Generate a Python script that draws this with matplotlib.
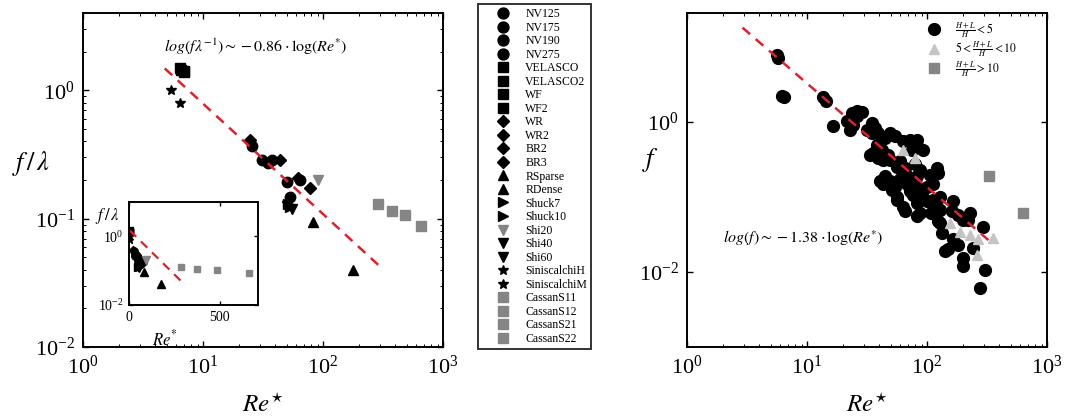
import numpy as np
import matplotlib
matplotlib.use('Agg')
import matplotlib.pyplot as plt
from matplotlib.ticker import FixedLocator
from matplotlib.lines import Line2D

plt.rcParams['font.family'] = ['Liberation Serif', 'DejaVu Serif']
plt.rcParams['mathtext.fontset'] = 'stix'

# ---------------- left panel data (Re*, f/lambda) ----------------
series_names = ['NV125', 'NV175', 'NV190', 'NV275', 'VELASCO', 'VELASCO2', 'WF', 'WF2',
                'WR', 'WR2', 'BR2', 'BR3', 'RSparse', 'RDense', 'Shuck7', 'Shuck10',
                'Shi20', 'Shi40', 'Shi60', 'SiniscalchiH', 'SiniscalchiM',
                'CassanS11', 'CassanS12', 'CassanS21', 'CassanS22']
series_re = [[25.5], [30.8, 35.0], [37.4, 49.8], [53.0, 64.3], [6.4], [6.9], [6.6], [7.0],
             [24.6], [43.8], [62.3], [78.0], [83.0], [178.0], [53.0], [51.0],
             [91.4], [50.0], [55.0], [5.4], [6.4],
             [287.0], [376.0], [482.0], [659.0]]
series_f = [[0.37], [0.285, 0.27], [0.285, 0.193], [0.148, 0.20], [1.48], [1.41], [1.45], [1.38],
            [0.41], [0.285], [0.206], [0.172], [0.094], [0.040], [0.124], [0.130],
            [0.20], [0.125], [0.118], [1.0], [0.79],
            [0.130], [0.115], [0.106], [0.087]]

fit_left_slope = -0.86
fit_left_intercept = 0.756     # log10 intercept
fit_left_range = [4.8, 300.0]

# ---------------- right panel data (Re*, f) ----------------
circ_re = [5.6, 5.7, 6.2, 6.4, 13.7, 14.4, 16.6, 23.6, 25.9, 21.4, 24.3, 22.8, 34.6, 36.9, 31.4,
           34.6, 39.3, 49.2, 54.1, 44.7, 38.1, 41.9, 35.7, 39.3, 43.2, 47.6, 63.5, 72.1, 82.0,
           93.1, 74.6, 59.6, 55.9, 65.6, 79.4, 87.4, 44.7, 43.2, 49.2, 54.1, 59.6, 67.7, 50.8,
           55.9, 72.1, 82.0, 90.3, 99.4, 63.5, 67.7, 82.0, 106.0, 124.0, 76.9, 82.0, 99.4, 113.0,
           128.0, 120.0, 65.6, 87.4, 109.0, 128.0, 166.0, 161.0, 182.0, 228.0, 221.0, 201.0,
           128.0, 133.0, 166.0, 182.0, 150.0, 201.0, 201.0, 243.0, 295.0, 304.0, 277.0, 33.5,
           40.6, 55.9, 82.0, 124.0, 141.0, 25.9, 28.7, 82.0, 49.2, 113.0, 120.0]
circ_f = [7.8, 7.1, 2.2, 2.1, 2.1, 1.87, 0.87, 1.31, 1.18, 1.01, 0.91, 0.78, 0.96, 0.82, 0.78,
          0.71, 0.71, 0.71, 0.64, 0.61, 0.49, 0.42, 0.38, 0.33, 0.31, 0.36, 0.55, 0.575, 0.47,
          0.42, 0.42, 0.30, 0.25, 0.24, 0.27, 0.23, 0.19, 0.15, 0.16, 0.137, 0.17, 0.15, 0.124,
          0.10, 0.118, 0.137, 0.112, 0.137, 0.074, 0.19, 0.19, 0.196, 0.207, 0.106, 0.082, 0.087,
          0.091, 0.10, 0.074, 0.064, 0.061, 0.061, 0.067, 0.087, 0.064, 0.058, 0.061, 0.049,
          0.049, 0.045, 0.033, 0.027, 0.023, 0.020, 0.0152, 0.0118, 0.0207, 0.040, 0.0106,
          0.0061, 0.36, 0.16, 0.091, 0.055, 0.047, 0.0187, 1.37, 1.36, 0.575, 0.31, 0.15, 0.24]
tri_re = [63.5, 79.4, 155.0, 188.0, 228.0, 268.0, 357.0, 259.0]
tri_f = [0.42, 0.33, 0.045, 0.034, 0.031, 0.027, 0.028, 0.0169]
sq_re = [330.0, 635.0]
sq_f = [0.187, 0.061]

fit_right_slope = -1.38
fit_right_intercept = 1.89
fit_right_range = [2.9, 355.0]

# ---------------- styles ----------------
GRAY = '#858585'
LGRAY = '#c4c4c4'
RED = '#e0202a'
series_marker = ['o'] * 4 + ['s'] * 4 + ['D'] * 4 + ['^'] * 2 + ['>'] * 2 + ['v'] * 3 + ['*'] * 2 + ['s'] * 4
series_color = ['k'] * 16 + [GRAY, 'k', 'k', 'k', 'k'] + [GRAY] * 4
series_size = {'o': 7.5, 's': 6.5, 'D': 6.0, '^': 7.5, '>': 7.5, 'v': 7.5, '*': 7.5}

W, H = 1076, 416
fig = plt.figure(figsize=(W / 100, H / 100), dpi=100)


def fax(x0, y0, x1, y1):
    return [x0 / W, 1 - y1 / H, (x1 - x0) / W, (y1 - y0) / H]


def style_axes(ax, fs=16, pad=6):
    for s in ax.spines.values():
        s.set_linewidth(1.4)
    ax.tick_params(which='both', direction='in', top=True, right=True, labelsize=fs, pad=pad)
    ax.tick_params(which='major', length=4, width=1.0)
    ax.tick_params(which='minor', length=2, width=0.7)


# Left panel
axL = fig.add_axes(fax(83, 13, 443, 347))
for name, xs, ys, m, c in zip(series_names, series_re, series_f, series_marker, series_color):
    axL.plot(xs, ys, linestyle='none', marker=m, color=c, ms=series_size[m], label=name)
xl = np.array(fit_left_range)
axL.plot(xl, 10 ** (fit_left_intercept + fit_left_slope * np.log10(xl)), '--', color=RED, lw=1.8,
         dashes=(4, 3))
axL.set_xscale('log')
axL.set_yscale('log')
axL.set_xlim(1, 1000)
axL.set_ylim(1e-2, 4)
axL.set_xticks([1, 10, 100, 1000])
axL.set_yticks([1e-2, 1e-1, 1])
style_axes(axL)
axL.set_xlabel(r'$Re^{\star}$', fontsize=18)
axL.xaxis.set_label_coords(0.5, -0.14)
axL.set_ylabel(r'$f\,/\,\lambda$', fontsize=19, rotation=0, va='center', ha='center')
axL.yaxis.set_label_coords(-0.145, 0.55)
axL.text(0.48, 0.9, r'$log(f\lambda^{-1})\sim-0.86\cdot\log(Re^{*})$', transform=axL.transAxes,
         ha='center', va='center', fontsize=11.5)

# Inset
axI = fig.add_axes(fax(129, 202, 258, 305))
for name, xs, ys, m, c in zip(series_names, series_re, series_f, series_marker, series_color):
    axI.plot(xs, ys, linestyle='none', marker=m, color=c, ms=series_size[m] * 0.7)
axI.plot(xl, 10 ** (fit_left_intercept + fit_left_slope * np.log10(xl)), '--', color=RED, lw=1.6,
         dashes=(4, 3))
axI.set_yscale('log')
axI.set_xlim(0, 710)
axI.set_ylim(1e-2, 10)
axI.set_xticks([0, 500])
axI.set_yticks([1e-2, 1])
axI.yaxis.set_minor_locator(FixedLocator([]))
style_axes(axI, fs=10, pad=4)
axI.tick_params(which='major', length=3)
axI.set_xlabel(r'$Re^{*}$', fontsize=12)
axI.xaxis.set_label_coords(0.28, -0.24)
axI.set_ylabel(r'$f\,/\,\lambda$', fontsize=12, rotation=0, va='center', ha='center')
axI.yaxis.set_label_coords(-0.17, 0.86)

# Legend for left
handles = [Line2D([], [], linestyle='none', marker=m, color=c, ms=series_size[m] * 1.05)
           for m, c in zip(series_marker, series_color)]
leg = fig.legend(handles, series_names, loc='upper left', bbox_to_anchor=(478 / W, 1 - 4 / H),
                 frameon=True, fancybox=False, fontsize=8.5, labelspacing=0.13, handletextpad=0.05,
                 borderpad=0.35, handlelength=3.6, borderaxespad=0)
leg.get_frame().set_edgecolor('k')
leg.get_frame().set_linewidth(1.4)

# Right panel
axR = fig.add_axes(fax(687, 13, 1047, 347))
axR.plot(circ_re, circ_f, linestyle='none', marker='o', color='k', ms=8.5,
         label=r'$\frac{H+L}{H}<5$')
axR.plot(tri_re, tri_f, linestyle='none', marker='^', color=LGRAY, ms=7.5,
         label=r'$5<\frac{H+L}{H}<10$')
axR.plot(sq_re, sq_f, linestyle='none', marker='s', color=GRAY, ms=6.5,
         label=r'$\frac{H+L}{H}>10$')
xr = np.array(fit_right_range)
axR.plot(xr, 10 ** (fit_right_intercept + fit_right_slope * np.log10(xr)), '--', color=RED, lw=1.8,
         dashes=(4, 3))
axR.set_xscale('log')
axR.set_yscale('log')
axR.set_xlim(1, 1000)
axR.set_ylim(1e-3, 28)
axR.set_xticks([1, 10, 100, 1000])
axR.set_yticks([1e-2, 1])
axR.yaxis.set_minor_locator(FixedLocator([]))
style_axes(axR)
axR.set_xlabel(r'$Re^{\star}$', fontsize=18)
axR.xaxis.set_label_coords(0.5, -0.14)
axR.set_ylabel(r'$f$', fontsize=19, rotation=0, va='center', ha='center')
axR.yaxis.set_label_coords(-0.1, 0.56)
axR.text(0.322, 0.326, r'$log(f)\sim-1.38\cdot\log(Re^{*})$', transform=axR.transAxes,
         ha='center', va='center', fontsize=11.5)
axR.legend(loc='upper left', bbox_to_anchor=((925 - 687) / 360, 1 - (20 - 13) / 334),
           frameon=False, fontsize=8.5, labelspacing=0.0, handletextpad=1.0,
           borderaxespad=0, borderpad=0, handlelength=1.5)

fig.savefig('out.png', dpi=100)
